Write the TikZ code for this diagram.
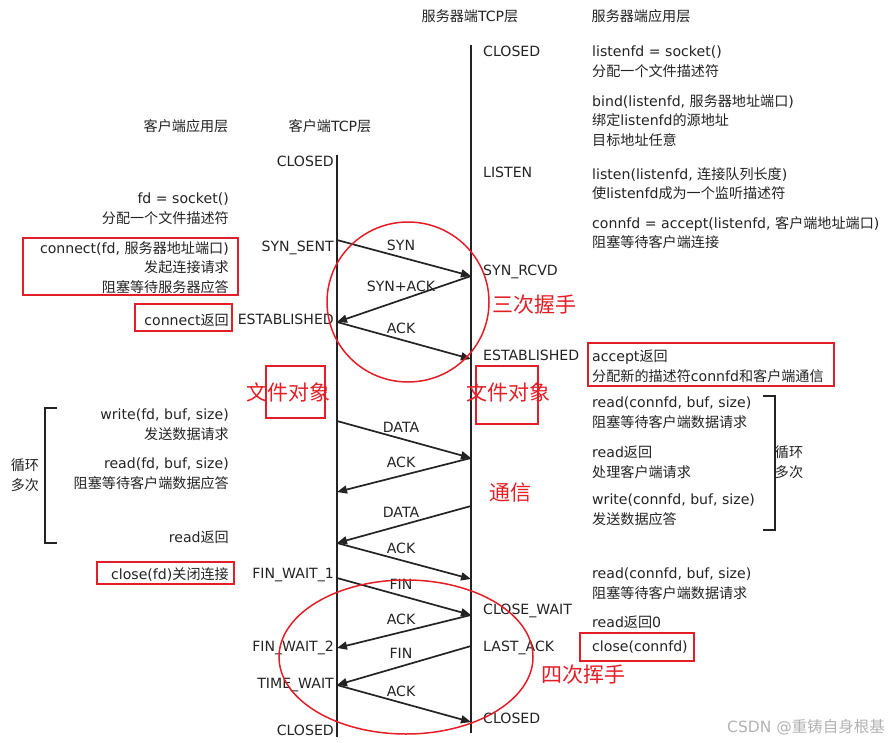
\documentclass[tikz,border=0pt]{standalone}
\usepackage{fontspec}
\setmainfont{DejaVu Sans}
\newfontfamily\zhfont{Noto Sans CJK SC}
\newcommand{\zh}[1]{{\zhfont #1}}
\usetikzlibrary{arrows.meta}
\definecolor{ink}{RGB}{35,35,35}
\definecolor{mark}{RGB}{228,30,38}
\tikzset{>/.tip={Triangle[length=10pt,width=8pt]}}
\tikzset{
  txt/.style={inner sep=0pt, text=ink, font=\fontsize{14.1}{19.6}\selectfont},
  lapp/.style={txt, anchor=north east, align=right},
  rapp/.style={txt, anchor=north west, align=left},
  life/.style={line width=2.2pt, draw=ink},
  msg/.style={->, line width=1.7pt, draw=ink},
  tag/.style={txt, above=6pt},
  box/.style={draw=mark, line width=1.6pt},
  ring/.style={draw=mark, line width=1.5pt},
  note/.style={inner sep=0pt, text=mark, font=\zhfont\fontsize{21}{24}\selectfont},
}

\begin{document}
\begin{tikzpicture}[x=1pt, y=-1pt]
\useasboundingbox (0,0) rectangle (888,743);
\node[txt] (hst) at (470,16)  {\zh{服务器端}TCP\zh{层}};
\node[txt] (hsa) at (641,16)  {\zh{服务器端应用层}};
\node[txt] (hca) at (186,126) {\zh{客户端应用层}};
\node[txt] (hct) at (330,126) {\zh{客户端}TCP\zh{层}};

\draw[life] (337,155) -- (337,737);
\draw[life] (471,45) -- (471,733);

\foreach \n/\y/\t in {cs1/156/CLOSED, cs2/241/SYN\_SENT, cs3/314/ESTABLISHED,
                      cs4/568/FIN\_WAIT\_1, cs5/641/FIN\_WAIT\_2, cs6/678/TIME\_WAIT, cs7/725/CLOSED}
  \node[txt, anchor=north east] (\n) at (334,\y) {\t};
\foreach \n/\y/\t in {ss1/46/CLOSED, ss2/167/LISTEN, ss3/265/SYN\_RCVD, ss4/350/ESTABLISHED,
                      ss5/604/CLOSE\_WAIT, ss6/641/LAST\_ACK, ss7/713/CLOSED}
  \node[txt, anchor=north west] (\n) at (483,\y) {\t};

\node[lapp] (csock) at (229,193) {fd = socket()\\\zh{分配一个文件描述符}};
\node[lapp] (cconn) at (229,241) {connect(fd, \zh{服务器地址端口})\\\zh{发起连接请求}\\\zh{阻塞等待服务器应答}};
\node[lapp] (cret)  at (229,314) {connect\zh{返回}};
\node[lapp] (cwr)   at (229,409) {write(fd, buf, size)\\\zh{发送数据请求}};
\node[lapp] (crd)   at (229,458) {read(fd, buf, size)\\\zh{阻塞等待客户端数据应答}};
\node[lapp] (crret) at (229,531) {read\zh{返回}};
\node[lapp] (ccl)   at (229,567) {close(fd)\zh{关闭连接}};

\node[rapp] (ssock) at (592,46)  {listenfd = socket()\\\zh{分配一个文件描述符}};
\node[rapp] (sbind) at (592,94)  {bind(listenfd, \zh{服务器地址端口})\\\zh{绑定}listenfd\zh{的源地址}\\\zh{目标地址任意}};
\node[rapp] (slis)  at (592,167) {listen(listenfd, \zh{连接队列长度})\\\zh{使}listenfd\zh{成为一个监听描述符}};
\node[rapp] (sacc)  at (592,216) {connfd = accept(listenfd, \zh{客户端地址端口})\\\zh{阻塞等待客户端连接}};
\node[rapp] (saret) at (592,350) {accept\zh{返回}\\\zh{分配新的描述符}connfd\zh{和客户端通信}};
\node[rapp] (srd)   at (592,397) {read(connfd, buf, size)\\\zh{阻塞等待客户端数据请求}};
\node[rapp] (srret) at (592,446) {read\zh{返回}\\\zh{处理客户端请求}};
\node[rapp] (swr)   at (592,494) {write(connfd, buf, size)\\\zh{发送数据应答}};
\node[rapp] (srd2)  at (592,568) {read(connfd, buf, size)\\\zh{阻塞等待客户端数据请求}};
\node[rapp] (sr0)   at (592,616) {read\zh{返回}0};
\node[rapp] (scl)   at (592,641) {close(connfd)};

\draw[ink, line width=1.6pt] (57,408) -- (45,408) -- (45,543) -- (57,543);
\draw[ink, line width=1.6pt] (763,396) -- (775,396) -- (775,530) -- (763,530);
\node[txt, align=center] (loopc) at (25,475)  {\zh{循环}\\\zh{多次}};
\node[txt, align=center] (loops) at (789,462) {\zh{循环}\\\zh{多次}};

\foreach \n/\y in {1/240,2/322,3/421,4/492,5/543,6/578,7/648,8/685}
  \coordinate (c\n) at (337,\y);
\foreach \n/\y in {1/276,2/359,3/458,4/506,5/579,6/615,7/646,8/722}
  \coordinate (s\n) at (471,\y);
\foreach \a/\b/\t [count=\i] in {c1/s1/SYN, s1/c2/SYN+ACK, c2/s2/ACK, c3/s3/DATA, s3/c4/ACK,
                                 s4/c5/DATA, c5/s5/ACK, c6/s6/FIN, s6/c7/ACK, s7/c8/FIN, c8/s8/ACK}
  \draw[msg] (\a) -- node[tag, xshift=-3pt] (m\i) {\t} (\b);

\draw[box] (23,238) rectangle (238,295);
\draw[box] (135,304) rectangle (232,331);
\draw[box] (97,562) rectangle (234,584);
\draw[box] (588,343) rectangle (834,386);
\draw[box] (580,633) rectangle (694,661);
\draw[box] (266,366) rectangle (325,418);
\draw[box] (476,366) rectangle (538,424);

\draw[ring] (408,302) ellipse [x radius=81, y radius=80];
\draw[ring] (406,657) ellipse [x radius=127, y radius=77];
\node[note] (hs3)  at (534,305) {三次握手};
\node[note] (obj1) at (288,392) {文件对象};
\node[note] (obj2) at (508,392) {文件对象};
\node[note] (comm) at (510,493) {通信};
\node[note] (hs4)  at (583,675) {四次挥手};

\node[txt, anchor=east, text=black!30, font=\fontsize{15.5}{18}\selectfont] (wm) at (885,727) {CSDN @\zh{重铸自身根基}};
\end{tikzpicture}
\end{document}
